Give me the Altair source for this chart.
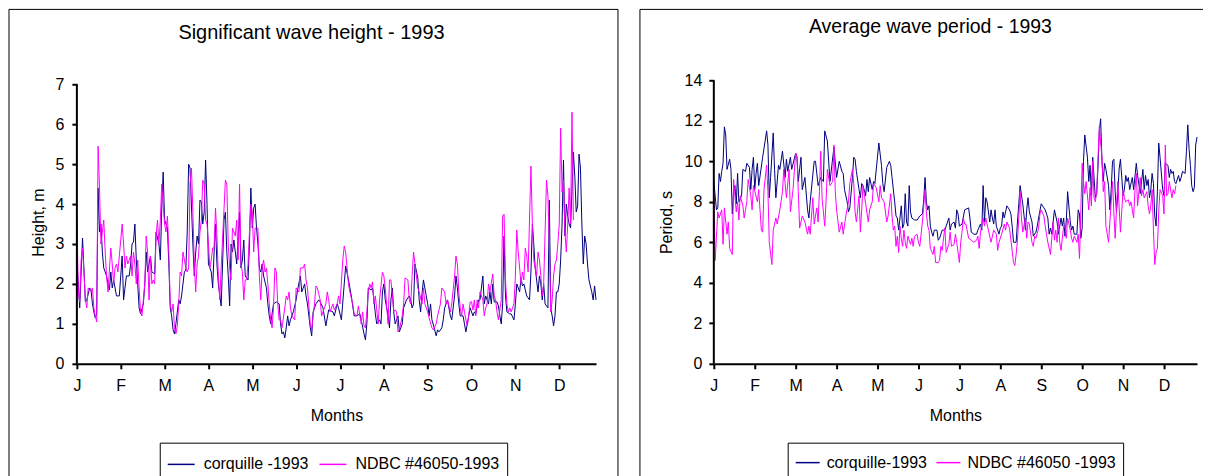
import altair as alt
import pandas as pd

FONT = "Liberation Sans"
BLUE = "#000080"
PINK = "#ff00ff"
MONTH_TICKS = [31 * i for i in range(12)]
MONTH_EXPR = "['J','F','M','A','M','J','J','A','S','O','N','D'][round(datum.value/31)]"

# ---- Significant wave height (m), (day index, value) ----
HS_CORQ = [(0,2.6),(2,1.4),(4,3.15),(6,1.55),(7,1.6),(9,1.9),(10,1.85),(11,1.5),(12,1.3),(13,1.15),(14,1.25),(15,4.4),(16,3.3),(17,3.5),(18,2.8),(19,2.4),(21,2.2),(22,2.0),(23,1.85),(24,2.3),(25,1.9),(26,2.1),(28,1.7),(30,1.7),(32,2.7),(33,1.6),(35,2.2),(37,2.2),(38,2.5),(39,3.0),(40,3.05),(41,3.5),(42,2.6),(43,2.0),(44,1.4),(45,1.25),(47,1.5),(48,2.0),(49,2.8),(50,2.3),(52,2.7),(53,2.3),(55,2.25),(56,3.3),(58,3.0),(59,2.6),(60,3.9),(61,4.8),(62,3.6),(64,3.4),(65,2.5),(66,1.4),(67,1.2),(68,0.85),(69,0.75),(70,1.0),(72,1.6),(73,1.5),(74,1.7),(76,2.3),(77,2.35),(78,3.3),(79,5.0),(80,4.9),(82,3.0),(83,2.2),(84,2.8),(85,3.2),(86,3.0),(87,4.1),(88,4.05),(89,3.5),(90,3.8),(91,5.1),(92,4.0),(93,2.5),(95,2.3),(96,1.9),(97,2.8),(98,3.5),(99,2.5),(100,2.0),(102,1.45),(103,2.5),(104,3.6),(105,3.8),(106,2.8),(107,2.2),(108,1.45),(109,3.0),(110,2.8),(111,3.1),(113,2.5),(115,3.8),(116,2.4),(117,2.6),(118,3.1),(119,2.2),(121,2.1),(122,3.0),(123,4.4),(124,3.4),(125,3.9),(126,4.0),(127,3.4),(128,3.0),(129,2.4),(130,2.3),(131,2.5),(132,2.2),(134,1.9),(135,1.5),(136,1.2),(137,1.0),(139,1.5),(141,1.55),(143,1.5),(144,1.0),(145,0.75),(146,0.8),(147,0.65),(148,0.9),(149,1.2),(150,0.95),(151,1.1),(153,1.3),(155,1.6),(156,1.85),(158,2.2),(159,1.8),(161,2.0),(162,1.7),(163,1.5),(165,0.9),(166,0.7),(167,1.3),(169,1.5),(171,1.6),(172,1.55),(174,1.4),
           (176,0.95),(178,1.35),(181,1.3),(182,1.2),(184,1.5),(185,1.4),(187,1.1),(190,2.45),(192,2.1),(194,1.7),(196,1.2),(198,1.2),(200,1.25),(201,1.1),(203,0.75),(204,0.6),(205,1.0),(206,1.9),(208,1.85),(209,1.9),(210,1.6),(211,1.25),(212,1.0),(214,1.1),(215,1.0),(216,1.8),(217,2.0),(218,1.6),(220,1.2),(221,0.9),(222,1.6),(223,1.9),(224,1.3),(225,1.0),(227,1.2),(228,0.8),(230,1.0),(231,1.4),(233,1.6),(235,1.7),(236,1.6),(237,1.4),(238,1.5),(239,2.5),(241,2.15),(242,1.6),(243,1.3),(244,1.75),(245,2.1),(247,1.7),(248,1.5),(249,1.2),(250,1.5),(251,1.1),(253,0.85),(254,0.7),(255,0.85),(256,0.8),(258,0.9),(259,1.1),(260,1.4),(262,1.6),(263,1.4),(264,1.2),(265,1.1),(267,1.7),(268,2.2),(269,1.9),(270,1.5),(271,1.2),(273,1.2),(274,1.0),(275,0.8),(277,1.2),(278,1.4),(280,1.2),(281,1.3),(282,1.25),(283,1.45),(284,1.6),(285,1.6),(287,2.2),(288,1.5),(289,1.7),(291,1.5),(292,1.8),(293,1.5),(294,2.0),(295,1.55),(297,1.55),(298,1.45),(299,1.2),(300,1.0),(301,1.5),(302,3.2),(303,1.7),(304,1.3),(306,1.25),(307,1.25),(309,1.1),(310,1.5),(311,2.0),(313,1.8),(314,2.15),(315,1.95),(316,2.0),(318,1.7),(320,1.6),(321,2.3),(322,3.5),(323,3.0),(324,2.4),(326,1.8),(327,2.2),(328,2.0),(329,1.6),(330,2.0),(331,1.5),(333,1.4),(334,4.1),(335,1.4),(336,1.2),(337,0.95),(338,1.2),(339,1.8),(340,1.8),(341,2.0),(342,2.6),(343,3.5),(344,5.1),(345,3.2),(346,4.0),(347,3.7),(348,3.5),(349,3.4),(351,5.3),(352,4.7),(353,3.8),(354,3.95),(355,5.25),(356,4.9),(357,3.5),(358,2.5),(359,3.2),(360,3.0),(361,2.5),(362,2.1),(364,1.8),(365,1.6),(366,1.95),(367,1.6)]

HS_NDBC = [(0,3.7),(1,1.8),(2,1.55),(3,2.6),(4,2.9),(5,2.3),(6,1.6),(7,1.4),(8,1.9),(10,1.8),(11,1.9),(12,1.4),(13,1.2),(14,1.05),(15,5.45),(16,4.4),(17,3.0),(19,3.6),(20,2.8),(21,2.2),(22,1.8),(24,2.9),(25,2.5),(26,2.0),(27,2.4),(28,2.5),(29,2.3),(30,2.7),(32,3.5),(33,3.0),(34,2.4),(35,2.7),(36,2.5),(38,2.7),(39,2.2),(40,2.8),(41,2.5),(42,2.0),(43,2.6),(44,1.9),(45,1.3),(46,1.2),(47,1.6),(48,2.0),(49,3.2),(50,2.8),(51,1.6),(52,2.7),(53,2.0),(54,2.1),(55,2.0),(56,3.2),(57,3.6),(58,3.0),(59,3.6),(60,4.5),(61,4.0),(62,3.5),(63,3.3),(64,3.7),(65,2.8),(66,1.5),(67,1.3),(68,1.5),(69,0.9),(70,0.75),(71,0.95),(72,1.5),(73,2.3),(74,2.2),(75,2.8),(76,2.6),(77,2.4),(78,2.3),(79,2.4),(80,4.5),(81,4.9),(82,3.8),(83,2.5),(84,1.8),(85,2.5),(86,2.7),(87,3.3),(88,3.6),(89,4.6),(90,4.5),(91,3.6),(92,3.5),(93,3.0),(94,2.4),(95,2.6),(96,2.9),(97,2.9),(98,3.9),(99,3.2),(100,2.2),(101,1.6),(102,2.4),(105,4.6),(106,4.5),(107,3.0),(108,2.4),(109,2.1),(110,3.4),(111,3.3),(112,3.2),(113,3.6),(114,2.6),(115,4.5),(116,2.5),(117,2.3),(118,1.6),(119,2.1),(120,2.1),(121,2.5),(122,3.3),(123,4.0),(124,3.8),(125,2.8),(126,3.4),(128,3.4),(129,2.2),(130,1.6),(131,2.4),(132,2.6),(133,2.3),(134,2.4),(135,2.0),(136,1.5),(137,1.1),(138,0.9),(139,1.4),(140,2.4),(141,2.3),(142,1.5),(143,1.1),(144,1.1),(145,0.9),(147,1.4),(148,1.7),(149,1.6),(150,1.8),(151,1.4),(152,1.2),(154,1.1),(155,1.9),(157,1.8),(158,2.4),(160,2.4),(161,2.5),(162,2.1),(163,1.9),(165,1.0),(166,0.85),(167,1.2),(168,1.5),(169,1.95),(170,1.9),(171,1.75),(172,1.6),(173,1.2),(175,1.4),(176,1.5),(177,1.8),(178,1.6),(179,1.3),(181,1.5),(182,1.35),(184,1.5),(185,1.7),(186,1.5),
           (188,2.6),(189,2.95),(190,2.8),(192,2.0),(193,1.8),(195,1.5),(196,1.25),(198,1.2),(199,1.45),(201,1.0),(202,1.3),(203,0.95),(204,0.9),(205,1.3),(206,1.8),(207,2.0),(208,1.9),(209,2.05),(210,1.5),(211,1.7),(212,1.35),(213,1.0),(214,1.6),(216,2.3),(217,2.2),(218,1.9),(220,1.0),(221,2.1),(222,2.1),(224,1.3),(225,1.35),(226,1.3),(227,0.8),(228,0.85),(230,1.2),(231,1.5),(232,2.15),(234,2.1),(235,1.6),(236,1.5),(237,2.2),(238,2.8),(240,2.2),(241,1.9),(242,1.8),(244,1.5),(245,1.9),(246,1.5),(248,1.3),(249,1.15),(251,0.9),(252,0.85),(254,1.0),(255,1.2),(257,1.5),(258,1.9),(260,1.8),(261,1.5),(262,1.6),(264,1.3),(265,1.5),(267,2.2),(268,2.7),(269,2.5),(270,1.8),(271,1.4),(272,1.2),(273,1.5),(274,1.3),(275,1.1),(276,0.95),(277,1.2),(278,1.55),(279,1.55),(280,1.35),(281,1.6),(282,1.2),(283,1.6),(284,1.4),(285,1.8),(287,1.6),(288,1.2),(289,1.4),(290,1.5),(291,2.0),(292,1.8),(294,2.25),(295,1.7),(296,1.6),(297,1.3),(298,1.1),(300,1.6),(301,3.7),(302,3.75),(303,2.1),(304,1.5),(305,1.3),(306,1.4),(307,1.3),(309,1.5),(310,2.2),(311,3.35),(312,2.8),(314,2.0),(315,2.3),(316,2.1),(317,2.9),(318,2.7),(319,2.3),(321,4.95),(322,3.5),(323,2.6),(324,2.4),(325,2.2),(326,2.8),(327,2.6),(328,2.2),(329,1.7),(330,2.0),(332,4.6),(333,4.2),(334,3.0),(335,1.3),(336,1.6),(337,2.2),(338,2.5),(339,2.6),(340,3.0),(341,3.5),(342,5.9),(343,4.3),(344,4.6),(345,3.3),(346,2.8),(347,3.5),(348,4.4),(349,3.5),(350,6.3),(351,3.6)]

# ---- Average wave period (s), (day index, value) ----
TM_CORQ = [(0,9.0),(2,7.6),(3,7.7),(4,9.4),(5,9.0),(6,9.5),(7,9.9),(8,11.7),(9,11.3),(10,9.6),(12,10.1),(13,9.6),(14,7.4),(15,8.5),(16,8.8),(17,7.9),(18,9.4),(19,8.0),(21,8.3),(22,9.6),(24,9.5),(25,9.9),(27,9.7),(28,8.6),(29,9.6),(30,10.2),(31,8.6),(32,9.4),(33,9.9),(34,8.8),(37,10.2),(40,11.5),(41,10.8),(42,8.2),(43,9.2),(45,11.4),(46,9.6),(47,8.2),(49,9.8),(50,9.6),(52,10.5),(54,9.2),(55,10.1),(56,9.5),(58,10.2),(59,9.6),(62,10.4),(63,10.2),(64,9.0),(66,10.2),(67,8.6),(69,9.2),(71,7.6),(72,7.2),(73,8.0),(76,10.0),(77,10.0),(79,8.8),(81,9.2),(83,9.0),(84,11.5),(86,11.0),(88,9.0),(91,10.7),(93,9.2),(95,10.0),(97,9.5),(98,9.4),(99,8.6),(101,8.0),(102,7.5),(103,7.7),(105,9.2),(106,10.2),(107,10.1),(108,9.5),(110,8.6),(111,8.2),(112,8.9),(113,8.8),(115,8.3),(116,9.1),(117,8.5),(118,9.2),(120,8.6),(121,9.0),(122,8.9),(125,10.9),(127,9.8),(128,8.9),(129,8.5),(131,9.7),(133,10.0),(134,9.8),(135,9.2),(137,8.0),(138,7.3),(139,7.2),(140,6.6),(142,7.8),(143,6.7),(144,6.9),(145,8.4),(146,7.0),(147,6.8),(148,8.8),(149,7.5),(150,7.2),(152,7.1),(154,7.1),(156,7.3),(158,7.4),(159,8.1),(160,9.2),(161,8.0),(162,7.6),(163,7.8),(164,6.8),(165,6.5),(166,6.3),(167,6.6),(169,6.6),(170,6.1),(171,6.2),(173,6.6),(175,6.6),(176,6.8),(178,7.2),(179,6.6),(180,6.9),(182,7.0),(183,6.7),(184,7.6),(185,7.4),(186,6.8),
           (188,6.9),(190,7.6),(193,7.7),(194,7.2),(195,6.5),(197,6.4),(199,6.4),(200,6.6),(202,6.9),(203,6.6),(204,8.8),(205,7.0),(206,8.2),(207,8.0),(209,7.0),(210,7.6),(211,7.2),(212,6.9),(213,7.6),(214,6.8),(216,6.4),(217,6.7),(218,6.8),(219,7.5),(220,7.2),(222,7.8),(224,7.6),(225,7.4),(226,6.8),(227,6.0),(229,6.0),(230,7.0),(231,7.9),(232,8.8),(234,7.9),(235,7.3),(236,6.6),(237,7.6),(238,8.2),(239,7.5),(241,7.0),(242,6.3),(244,6.5),(245,6.8),(246,7.2),(248,7.9),(250,7.7),(251,7.6),(253,7.2),(254,6.4),(255,6.7),(256,6.4),(258,7.6),(260,7.0),(261,6.4),(263,7.2),(264,6.8),(265,7.2),(266,6.3),(267,7.1),(268,8.5),(270,7.0),(271,6.6),(272,6.8),(273,6.4),(275,6.4),(276,7.6),(277,7.4),(278,6.2),(279,6.7),(280,10.0),(281,11.3),(283,10.2),(284,9.0),(285,9.8),(286,8.3),(287,10.2),(288,9.2),(289,8.2),(290,8.4),(291,9.7),(292,11.5),(293,12.1),(294,10.0),(295,9.0),(296,9.9),(297,9.6),(299,8.8),(300,7.6),(301,8.6),(302,10.0),(303,10.1),(304,8.5),(305,7.5),(306,8.4),(307,9.6),(308,10.1),(310,8.3),(311,8.6),(312,9.3),(313,9.0),(314,9.2),(315,8.6),(317,9.2),(318,8.6),(320,9.9),(321,9.3),(323,8.4),(324,9.0),(325,9.6),(326,8.6),(327,9.3),(328,8.8),(329,9.1),(330,8.2),(331,8.6),(332,9.4),(333,8.9),(334,7.3),(335,6.8),(336,8.5),(337,10.9),(338,10.2),(340,8.6),(341,8.3),(342,9.9),(344,9.8),(345,9.2),(346,9.6),(347,9.4),(348,9.5),(349,9.0),(350,8.9),(352,9.3),(353,9.0),(354,9.2),(355,9.5),(357,9.4),(358,10.5),(359,11.8),(360,10.6),(361,9.8),(362,8.8),(363,8.5),(364,8.7),(365,10.8),(366,11.2)]

TM_NDBC = [(0,8.5),(1,5.1),(3,7.5),(4,7.2),(6,7.6),(7,5.9),(8,7.7),(10,6.4),(11,7.0),(12,5.7),(14,5.4),(15,9.1),(17,7.5),(18,8.0),(19,7.1),(20,8.3),(22,7.8),(23,7.2),(25,8.0),(26,9.1),(28,8.3),(29,7.6),(30,8.8),(33,8.0),(34,8.6),(36,6.6),(37,6.5),(38,8.6),(40,9.8),(41,8.5),(42,6.0),(44,4.9),(45,6.6),(47,7.2),(48,6.9),(50,7.6),(52,8.5),(53,9.6),(55,8.2),(57,9.6),(58,7.5),(60,8.6),(62,10.4),(63,10.2),(64,8.5),(65,6.7),(67,7.3),(69,7.0),(71,6.4),(72,6.8),(73,6.4),(74,7.3),(75,8.2),(76,6.9),(78,7.7),(79,7.0),(80,8.5),(81,10.5),(82,8.2),(84,6.8),(85,8.0),(86,9.6),(88,8.8),(90,9.0),(91,10.8),(92,8.5),(93,7.6),(95,6.5),(97,7.0),(98,6.4),(100,7.3),(102,8.0),(103,8.9),(105,9.6),(106,8.9),(107,7.5),(108,7.0),(110,8.3),(111,6.5),(112,7.6),(113,8.8),(115,7.9),(117,7.0),(118,7.6),(120,8.0),(121,8.9),(123,8.7),(125,8.0),(126,8.8),(127,8.2),(129,8.0),(131,7.0),(132,7.3),(134,8.4),(135,7.3),(136,6.6),(137,6.8),(138,5.8),(139,6.3),(140,5.5),(141,6.8),(142,6.2),(143,5.8),(144,6.6),(145,6.0),(146,5.7),(147,6.3),(149,5.9),(150,6.2),(151,5.8),(152,6.3),(154,6.4),(155,6.0),(156,5.8),(158,7.0),(160,8.6),(161,7.5),(162,6.8),(163,6.6),(164,5.7),(166,5.4),(167,5.8),(168,5.0),(170,5.0),(171,5.1),(172,5.8),(173,5.6),(174,6.2),(175,6.7),(176,5.5),(178,5.9),(179,6.5),(180,5.8),(182,5.9),(183,6.4),(184,6.0),(186,5.0),
           (187,6.0),(188,6.5),(189,7.2),(190,6.9),(191,6.9),(193,6.2),(195,6.1),(197,6.0),(199,6.1),(200,6.3),(201,5.7),(202,6.5),(204,7.2),(205,6.8),(206,7.2),(208,6.6),(209,6.3),(210,6.0),(212,6.6),(214,6.4),(215,5.6),(216,6.0),(218,6.4),(220,6.9),(221,6.6),(222,7.0),(224,6.7),(227,5.0),(228,4.85),(229,5.4),(230,6.1),(231,7.2),(232,8.5),(233,7.2),(234,6.5),(236,7.2),(237,6.2),(238,7.0),(239,6.9),(241,6.0),(242,5.8),(243,6.3),(244,6.2),(246,6.7),(247,7.4),(248,7.6),(250,7.3),(251,6.8),(253,6.0),(255,5.4),(256,6.2),(257,7.0),(258,6.1),(259,6.6),(260,6.0),(261,7.2),(262,6.0),(263,5.6),(265,6.8),(266,6.8),(267,6.2),(268,7.2),(270,6.6),(271,6.2),(272,6.0),(273,6.3),(275,6.0),(276,6.4),(277,5.2),(278,7.6),(279,9.9),(280,9.0),(281,8.4),(282,9.0),(284,7.6),(285,8.7),(286,7.8),(287,10.0),(288,8.2),(289,8.0),(290,8.5),(292,11.7),(294,10.2),(295,8.5),(296,9.0),(297,6.8),(299,6.0),(300,7.0),(301,8.0),(302,9.0),(303,7.5),(304,6.2),(305,7.6),(306,9.0),(308,6.5),(310,8.6),(311,8.2),(312,8.0),(314,8.1),(315,7.8),(316,8.0),(318,7.2),(319,8.6),(320,9.4),(321,7.8),(323,9.2),(324,8.3),(325,8.6),(326,8.2),(328,8.5),(329,7.8),(330,7.4),(331,7.8),(332,8.6),(333,6.6),(334,4.9),(335,5.5),(336,5.7),(337,7.5),(338,8.6),(340,8.3),(341,7.4),(342,10.8),(343,8.3),(344,8.4),(345,9.0),(347,8.2),(348,8.6),(349,8.4),(350,8.8)]

HS_NAMES = ["corquille -1993", "NDBC #46050-1993"]
TM_NAMES = ["corquille-1993", "NDBC #46050 -1993"]


def to_df(pairs, name):
    return pd.DataFrame({"day": [p[0] for p in pairs],
                         "value": [p[1] for p in pairs],
                         "series": name})


one = pd.DataFrame({"k": [0]})


def panel(df, names, title, title_xy, title_size, ytitle, ymax, yscale_max, ystep,
          width, height, xmax, frame, leg, ylabpad, ytitlepad):
    x = alt.X("day:Q", scale=alt.Scale(domain=[0, xmax], nice=False, zero=False),
              axis=alt.Axis(values=MONTH_TICKS, labelExpr=MONTH_EXPR, title="Months",
                            labelFlush=False, labelOverlap=False, labelPadding=9,
                            titlePadding=14))
    y = alt.Y("value:Q", scale=alt.Scale(domain=[0, yscale_max], nice=False),
              axis=alt.Axis(values=list(range(0, ymax + 1, ystep)), title=ytitle,
                            domain=False, labelPadding=ylabpad, titlePadding=ytitlepad))
    color = alt.Color("series:N",
                      scale=alt.Scale(domain=names, range=[BLUE, PINK]),
                      legend=alt.Legend(orient="none", legendX=leg["x"], legendY=leg["y"],
                                        direction="horizontal", title=None,
                                        strokeColor="black", padding=leg["pad"],
                                        symbolType="stroke", symbolSize=leg["sym"] ** 2,
                                        symbolStrokeWidth=1.5,
                                        labelFont=FONT, labelFontSize=16, labelColor="black",
                                        labelOffset=leg["off"], columnPadding=leg["col"]))
    lines = alt.Chart(df).mark_line(strokeWidth=1).encode(x=x, y=y, color=color)

    # y axis line from 0 to the top tick
    yline = alt.Chart(one).mark_rule(color="black", strokeWidth=2).encode(
        x=alt.value(0), y=alt.datum(0), y2=alt.datum(ymax))

    fl, ft, fr, fb, has_right = frame
    layers = [lines, yline]
    layers.append(alt.Chart(one).mark_rule(color="black", strokeWidth=1).encode(
        x=alt.value(fl), y=alt.value(ft), y2=alt.value(fb)))
    layers.append(alt.Chart(one).mark_rule(color="black", strokeWidth=1).encode(
        x=alt.value(fl), x2=alt.value(fr), y=alt.value(ft)))
    if has_right:
        layers.append(alt.Chart(one).mark_rule(color="black", strokeWidth=1).encode(
            x=alt.value(fr), y=alt.value(ft), y2=alt.value(fb)))
    layers.append(alt.Chart(one).mark_text(font=FONT, fontSize=title_size, align="center",
                                           baseline="alphabetic", color="black").encode(
        x=alt.value(title_xy[0]), y=alt.value(title_xy[1]), text=alt.value(title)))
    return alt.layer(*layers).properties(width=width, height=height)


left = panel(pd.concat([to_df(HS_CORQ, HS_NAMES[0]), to_df(HS_NDBC, HS_NAMES[1])]),
             HS_NAMES, "Significant wave height - 1993", (235, -41), 20,
             "Height, m", 7, 7.1, 1, 520, 284, 367,
             (-68, -71, 542, 397, True),
             {"x": 83, "y": 363, "pad": 7, "sym": 27, "off": 8, "col": 8}, 8, 9)

right = panel(pd.concat([to_df(TM_CORQ, TM_NAMES[0]), to_df(TM_NDBC, TM_NAMES[1])]),
              TM_NAMES, "Average wave period - 1993", (217, -47), 19.5,
              "Period, s", 14, 14, 2, 484, 284, 366,
              (-74, -71, 490, 397, False),
              {"x": 74, "y": 363, "pad": 7, "sym": 24, "off": 6, "col": 6}, 7, 10)

chart = alt.hconcat(left, right, spacing=20).resolve_scale(color="independent").properties(
    padding={"left": 0, "top": 0, "right": 0, "bottom": 0}
).configure_view(stroke=None).configure_axis(
    grid=False, domainColor="black", domainWidth=2, tickColor="black", tickWidth=2,
    tickSize=5, labelFont=FONT, labelFontSize=16, labelColor="black",
    titleFont=FONT, titleFontSize=16, titleFontWeight="normal", titleColor="black"
)

chart.save("out.html", embed_options={"renderer": "svg", "actions": False})
